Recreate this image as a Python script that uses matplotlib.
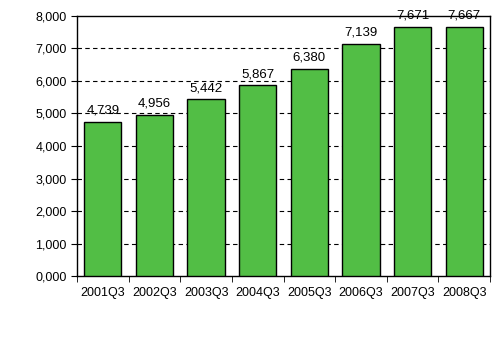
import matplotlib
matplotlib.use("Agg")
import matplotlib.pyplot as plt
import numpy as np

# data
quarters = ["2001Q3", "2002Q3", "2003Q3", "2004Q3", "2005Q3", "2006Q3", "2007Q3", "2008Q3"]
values = [4739, 4956, 5442, 5867, 6380, 7139, 7671, 7667]
y_ticks = [0, 1000, 2000, 3000, 4000, 5000, 6000, 7000, 8000]

plt.rcParams['font.family'] = ['Liberation Sans', 'DejaVu Sans']

fig = plt.figure(figsize=(4.95, 3.43), dpi=100)
ax = fig.add_axes([0.1556, 0.1953, 0.8343, 0.7581])

x = np.arange(len(quarters))
ax.bar(x, values, width=0.72, color='#52BE45', edgecolor='black', linewidth=1, zorder=3)

# value labels above the bars
for xi, v in zip(x, values):
    ax.text(xi, v + 250, f"{v:,}", ha='center', va='baseline', fontsize=9.5, zorder=4)

ax.set_xlim(-0.5, len(quarters) - 0.5)
ax.set_ylim(0, 8000)
ax.set_yticks(y_ticks)
ax.set_yticklabels([f"{t // 1000},000" for t in y_ticks])
for t in y_ticks[1:-1]:
    ax.axhline(t, color='black', linestyle=(0, (4, 3)), linewidth=0.8, zorder=1)

ax.set_xticks(x)
ax.set_xticklabels(quarters)
ax.set_xticks(np.arange(len(quarters) + 1) - 0.5, minor=True)
ax.tick_params(axis='x', which='major', length=0, pad=8, labelsize=9)
ax.tick_params(axis='x', which='minor', length=4, direction='out')
ax.tick_params(axis='y', length=4, direction='out', labelsize=9)

for s in ax.spines.values():
    s.set_linewidth(1)

fig.savefig("out.png", dpi=100)
